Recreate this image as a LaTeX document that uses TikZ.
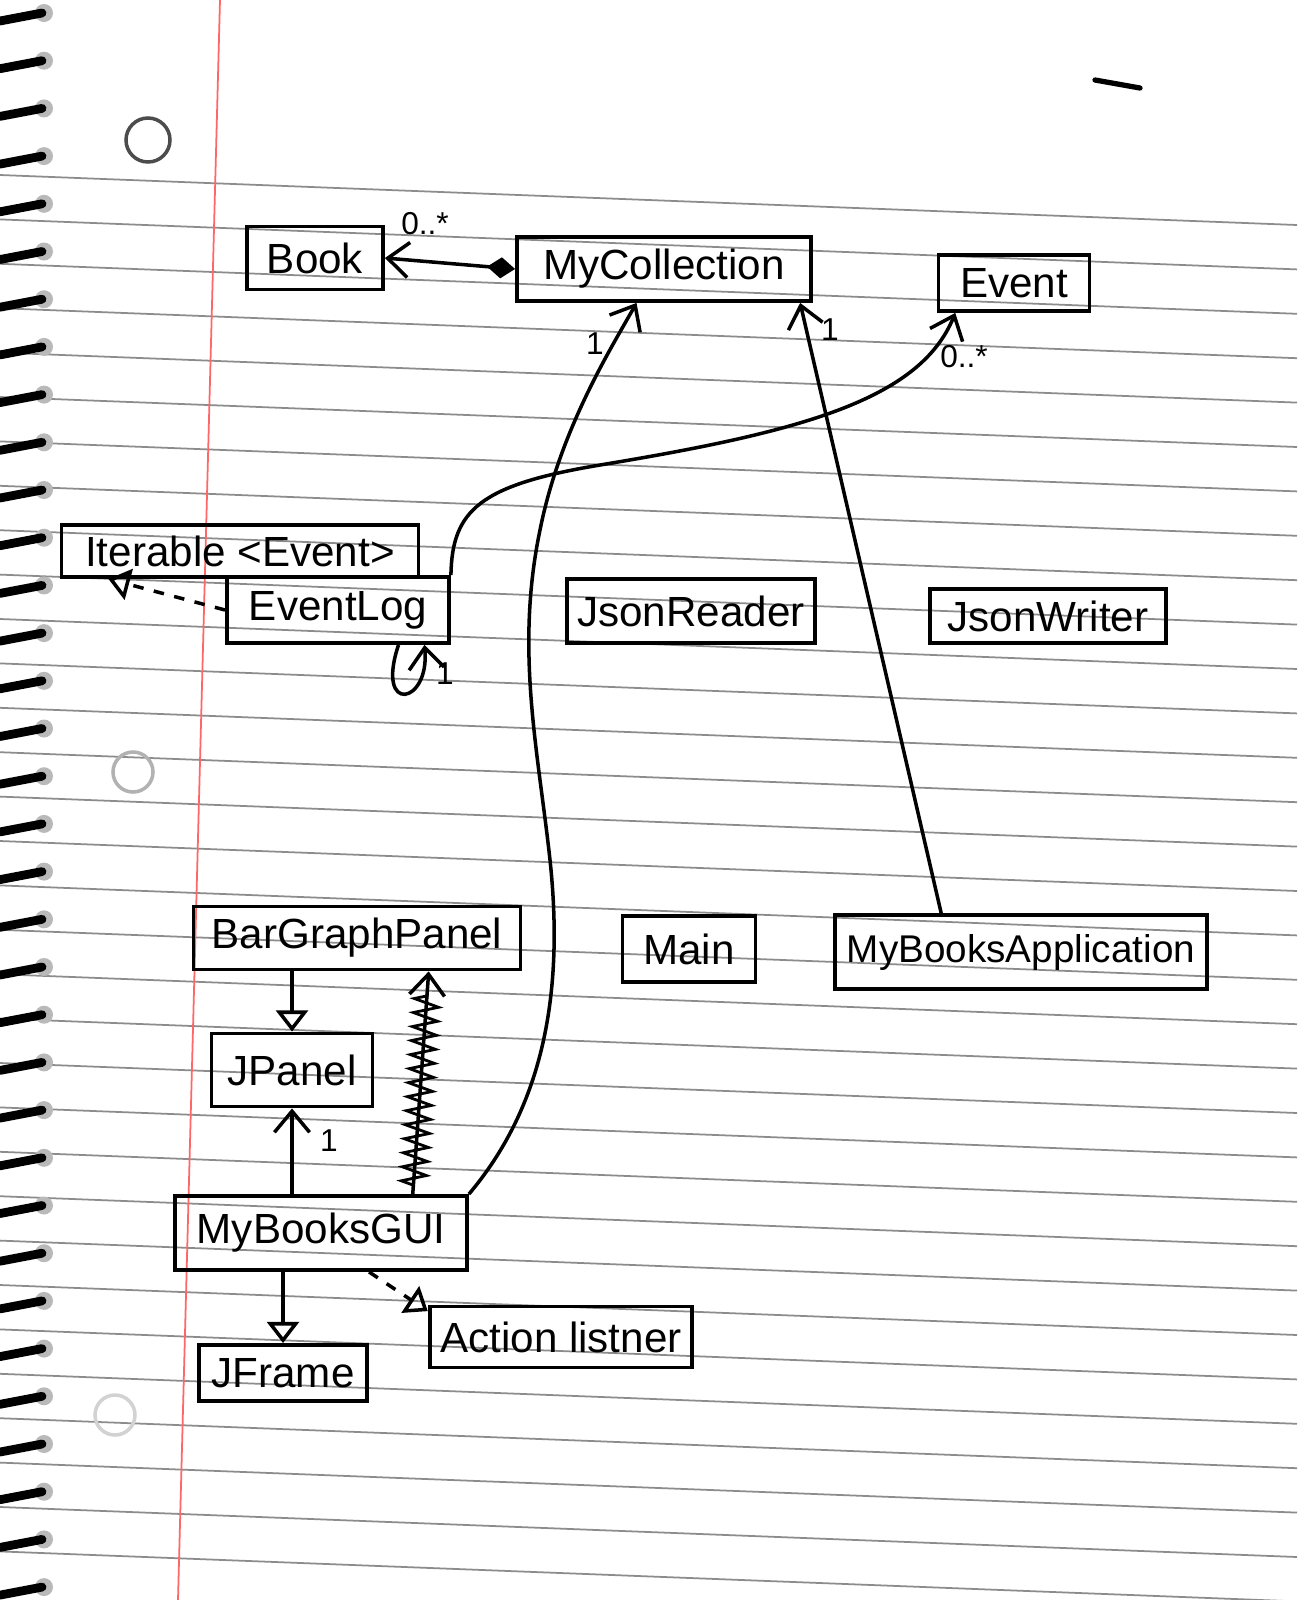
\documentclass[tikz,border=0pt]{standalone}
\usepackage{fontspec}
\setmainfont{Liberation Sans}
\usepackage{tikz}
\usetikzlibrary{arrows.meta, decorations.pathmorphing, calc}

\tikzset{
    cls/.style={draw, line width=1.1pt, inner sep=3pt, font=\fontsize{12}{14}\selectfont},
    mult/.style={font=\fontsize{9}{10}\selectfont, inner sep=1pt},
    assoc/.style={line width=1pt, -{Straight Barb[length=6pt, width=10pt]}},
    inherit/.style={line width=1pt, -{Triangle[open, length=6pt, width=9pt]}},
    realize/.style={inherit, dashed},
    rule/.style={black!45, line width=0.5pt},
}

\begin{document}
\begin{tikzpicture}[x=0.1mm, y=-0.1mm]
    \useasboundingbox (0,0) rectangle (1297,1600);
    \fill[white] (0,0) rectangle (1297,1600);
    % Ruled paper
    \foreach \k in {0,...,31} {
        \draw[rule] (0,{175+44.4*\k}) -- (1297,{225+44.4*\k});
    }
    \draw[red!60, line width=0.5pt] (220,0) -- (178,1600);
    % Spiral binding and punch holes
    \foreach \k in {0,...,33} {
        \fill[gray!55] (44,{13+47.7*\k}) circle (0.9mm);
        \draw[line width=2.5pt, line cap=round] (0,{21+47.7*\k}) -- (42,{13+47.7*\k});
    }
    \draw[black!70, line width=1pt] (148,140) circle (2.2mm);
    \draw[gray!60, line width=1pt] (133,772) circle (2mm);
    \draw[gray!35, line width=1pt] (115,1415) circle (2mm);
    \draw[line width=1.5pt, line cap=round] (1095,80) -- (1140,88);
    % Classes
    \node[cls, minimum width=13.6mm, minimum height=6.3mm] (book) at (315,258) {Book};
    \node[cls, minimum width=29.4mm, minimum height=6.4mm] (coll) at (664,269) {MyCollection};
    \node[cls, minimum width=15.1mm, minimum height=5.6mm] (event) at (1014,283) {Event};
    \node[cls, minimum width=35.7mm, minimum height=5.1mm] (iter) at (240,551) {Iterable <Event>};
    \node[cls, minimum width=22.2mm, minimum height=6.6mm] (elog) at (338,610) {EventLog};
    \node[cls, minimum width=24.0mm, minimum height=6.4mm] (jreader) at (691,611) {JsonReader};
    \node[cls, minimum width=23.6mm, minimum height=5.4mm] (jwriter) at (1048,616) {JsonWriter};
    \node[cls, minimum width=32.7mm, minimum height=6.3mm] (bgp) at (357,938) {BarGraphPanel};
    \node[cls, minimum width=13.3mm, minimum height=6.6mm] (mainc) at (689,949) {Main};
    \node[cls, minimum width=37.2mm, minimum height=7.4mm, font=\fontsize{11}{13}\selectfont] (app) at (1021,952) {MyBooksApplication};
    \node[cls, minimum width=16.1mm, minimum height=7.3mm] (jpanel) at (292,1070) {JPanel};
    \node[cls, minimum width=29.2mm, minimum height=7.4mm] (gui) at (321,1233) {MyBooksGUI};
    \node[cls, minimum width=16.8mm, minimum height=5.6mm] (jframe) at (283,1373) {JFrame};
    \node[cls, minimum width=22.5mm, minimum height=6.1mm] (alist) at (561,1337) {Action listner};
    % Associations
    \draw[line width=1pt, {Diamond[length=8pt, width=6pt]}-{Straight Barb[length=6pt, width=10pt]}]
        (coll.west) -- (book.east);
    \node[mult] (m0) at (425,224) {0..*};
    \draw[assoc] (gui.north east) .. controls (540,1110) and (565,1000) .. (550,860)
        .. controls (538,750) and (515,650) .. (540,530)
        .. controls (560,430) and (610,350) .. (coll.231);
    \node[mult] (m1) at (595,344) {1};
    \draw[assoc] (app.154) -- (coll.-14);
    \node[mult] (m2) at (830,330) {1};
    \draw[assoc] (elog.north east) .. controls (452,510) and (480,485) .. (600,465)
        .. controls (800,432) and (920,400) .. (event.207);
    \node[mult] (m3) at (964,357) {0..*};
    \draw[assoc] (elog.-30) .. controls (375,715) and (430,705) .. (elog.-22);
    \node[mult] (m4) at (445,674) {1};
    \draw[assoc] (gui.north -| jpanel.south) -- (jpanel.south);
    \node[mult] (m5) at (329,1141) {1};
    % Crossed-out association
    \draw[assoc] (gui.23) -- (bgp.-25);
    \draw[line width=0.8pt, decorate, decoration={zigzag, segment length=4pt, amplitude=3.5pt}]
        ($(gui.23)!0.04!(bgp.-25)$) -- ($(gui.23)!0.9!(bgp.-25)$);
    % Inheritance and realization
    \draw[inherit] (bgp.south -| jpanel.north) -- (jpanel.north);
    \draw[inherit] (gui.south -| jframe.north) -- (jframe.north);
    \draw[realize] (elog.west) -- (iter.192);
    \draw[realize] (gui.-39) -- (alist.169);
\end{tikzpicture}
\end{document}
